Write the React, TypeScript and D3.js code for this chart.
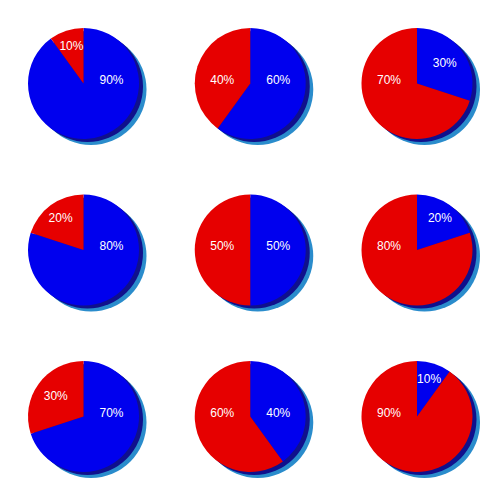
import React from "react";
import * as d3 from "d3";

// Blue share (starts at 12 o'clock, clockwise) and red share for each pie, row by row
const bluePercents = [90, 60, 30, 80, 50, 20, 70, 40, 10];
const redPercents = [10, 40, 70, 20, 50, 80, 30, 60, 90];
const gridCols = [0, 1, 2];
const gridRows = [0, 1, 2];

const W = 500;
const H = 500;
const R = 55.5;
const BLUE = "#0000ee";
const RED = "#e60000";
const SHADOW_DARK = "#10108c";
const SHADOW_LIGHT = "#2a8ccc";

export default function App() {
  const x = d3.scaleLinear().domain([0, 2]).range([83.5, 417]);
  const y = d3.scaleLinear().domain([0, 2]).range([83.5, 416.5]);
  const pie = d3
    .pie<{ v: number; c: string }>()
    .sort(null)
    .value((d) => d.v);
  const arc = d3.arc<d3.PieArcDatum<{ v: number; c: string }>>().innerRadius(0).outerRadius(R);
  const labelArc = d3.arc<d3.PieArcDatum<{ v: number; c: string }>>().innerRadius(0).outerRadius(78);

  const pies = bluePercents.map((b, i) => {
    const col = gridCols[i % 3];
    const row = gridRows[Math.floor(i / 3)];
    const data = [
      { v: b, c: BLUE },
      { v: redPercents[i], c: RED },
    ];
    return { cx: x(col), cy: y(row), arcs: pie(data) };
  });

  return (
    <svg
      width={W}
      height={H}
      style={{ position: "absolute", left: 0, top: 0, background: "#fff" }}
      fontFamily="'Liberation Sans', Arial, sans-serif"
    >
      <rect width={W} height={H} fill="#fff" />
      {pies.map((p, i) => (
        <g key={i} transform={`translate(${p.cx},${p.cy})`}>
          <circle cx={7.5} cy={6} r={R} fill={SHADOW_LIGHT} />
          <circle cx={4} cy={3} r={R} fill={SHADOW_DARK} />
          {p.arcs.map((a, j) => (
            <path key={j} d={arc(a) || ""} fill={a.data.c} />
          ))}
          {p.arcs.map((a, j) => {
            let lx: number, ly: number;
            const [cxL, cyL] = labelArc.centroid(a);
            if (a.data.v >= 40) {
              lx = cxL >= 0 ? 28 : -28;
              ly = -4;
            } else {
              const k = a.data.v >= 30 ? 0.88 : 1;
              lx = cxL * k;
              ly = cyL * k;
            }
            return (
              <text
                key={"t" + j}
                x={lx}
                y={ly}
                fill="#fff"
                fontSize={12}
                textAnchor="middle"
                dominantBaseline="central"
              >
                {a.data.v}%
              </text>
            );
          })}
        </g>
      ))}
    </svg>
  );
}
